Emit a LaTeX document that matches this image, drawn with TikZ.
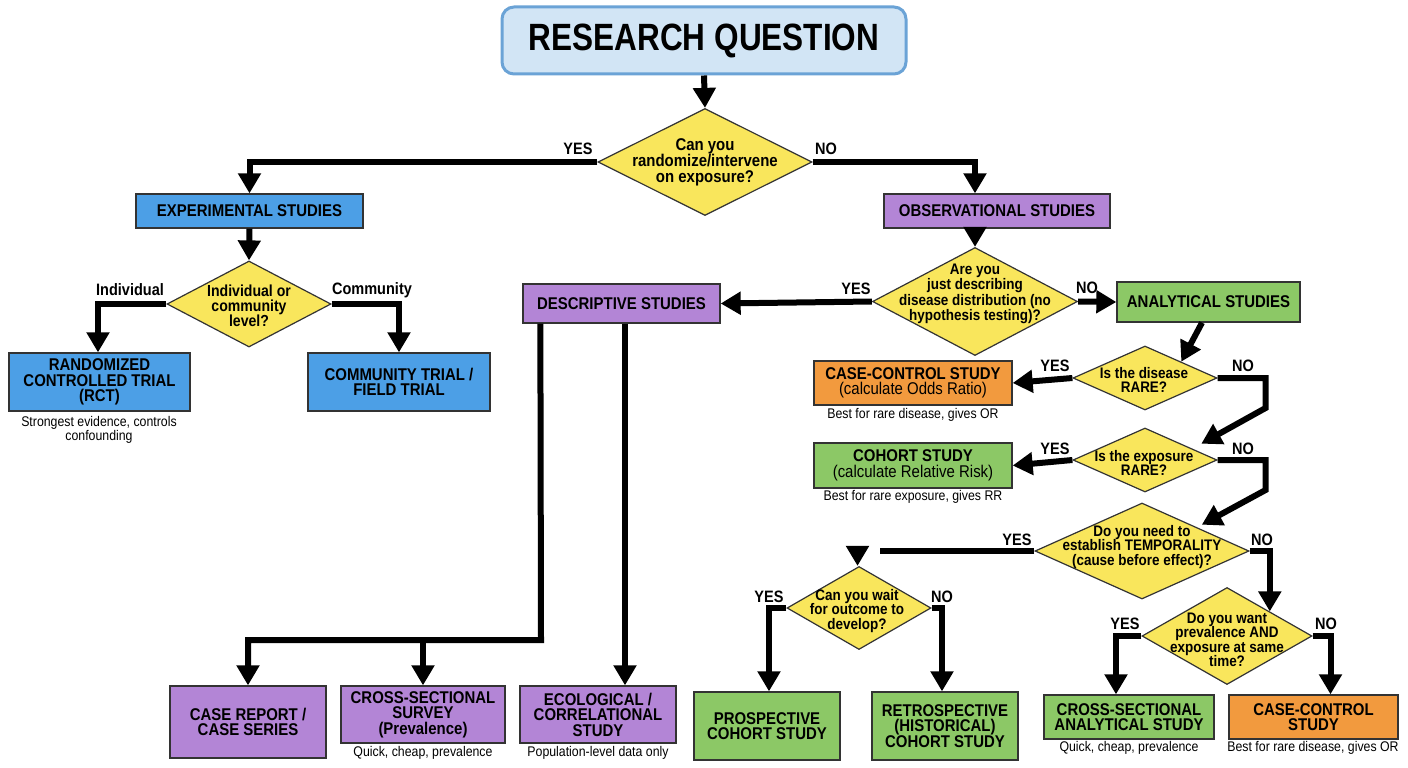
\documentclass[tikz,border=0pt]{standalone}
\usepackage{fontspec}
\setmainfont{Liberation Sans}
\newfontfamily\nar{Liberation Sans}[FakeStretch=0.88]
\newfontfamily\narr{Liberation Sans}[FakeStretch=0.83]
\usetikzlibrary{arrows.meta,shapes.geometric,calc}
\definecolor{titlefill}{HTML}{D2E5F5}
\definecolor{titleedge}{HTML}{6BA3D6}
\definecolor{cblue}{HTML}{4C9FE6}
\definecolor{cpurple}{HTML}{B385D6}
\definecolor{cgreen}{HTML}{8CC866}
\definecolor{corange}{HTML}{F29A3E}
\definecolor{cyellow}{HTML}{F9E65C}
\definecolor{edge}{HTML}{333333}
\tikzset{
  box/.style={draw=edge, line width=1.3pt, inner sep=0pt, align=center,
    font=\nar\bfseries\fontsize{17}{15.5}\selectfont},
  bluebox/.style={box, fill=cblue},
  purplebox/.style={box, fill=cpurple},
  greenbox/.style={box, fill=cgreen},
  orangebox/.style={box, fill=corange},
  dia/.style={diamond, draw=edge, line width=1.2pt, fill=cyellow, inner sep=0pt},
  dtext/.style={align=center, inner sep=0pt, font=\nar\bfseries\fontsize{15.3}{14.5}\selectfont},
  lab/.style={inner sep=0pt, font=\nar\bfseries\fontsize{16.5}{16}\selectfont},
  captxt/.style={inner sep=0pt, align=center, font=\nar\fontsize{14}{14}\selectfont},
  conn/.style={line width=6pt},
  arr/.style={conn, -{Triangle[width=22pt,length=20pt]}}
}
\begin{document}
\begin{tikzpicture}[x=1pt,y=-1pt]
\fill[white] (0,0) rectangle (1408,768);
\useasboundingbox (0,0) rectangle (1408,768);

% title
\node[draw=titleedge, line width=3pt, fill=titlefill, rounded corners=12pt,
  minimum width=404pt, minimum height=67pt, inner sep=0pt,
  font=\narr\bfseries\fontsize{38}{38}\selectfont] (title) at (704,40.5) {RESEARCH QUESTION};

% diamonds
\node[dia, minimum width=214pt, minimum height=107pt] (d1) at (705,162) {};
\node[dtext, font=\nar\bfseries\fontsize{17}{16}\selectfont] (t1) at (705,162) {Can you\\randomize/intervene\\on exposure?};
\node[dia, minimum width=164pt, minimum height=86pt] (d2) at (249,304) {};
\node[dtext, font=\nar\bfseries\fontsize{16}{14.5}\selectfont] (t2) at (249,306) {Individual or\\community\\level?};
\node[dia, minimum width=205pt, minimum height=108pt] (d3) at (975,301.5) {};
\node[dtext, font=\nar\bfseries\fontsize{15.3}{14}\selectfont] (t3) at (975,294) {Are you\\just describing\\disease distribution (no\\hypothesis testing)?};
\node[dia, minimum width=144pt, minimum height=64pt] (d4) at (1145,378) {};
\node[dtext] (t4) at (1144,380) {Is the disease\\RARE?};
\node[dia, minimum width=144pt, minimum height=64pt] (d5) at (1145,460) {};
\node[dtext] (t5) at (1144,463) {Is the exposure\\RARE?};
\node[dia, minimum width=214pt, minimum height=96pt] (d6) at (1142,551) {};
\node[dtext] (t6) at (1142,547) {Do you need to\\establish TEMPORALITY\\(cause before effect)?};
\node[dia, minimum width=144pt, minimum height=83pt] (d7) at (859,608) {};
\node[dtext] (t7) at (857,611) {Can you wait\\for outcome to\\develop?};
\node[dia, minimum width=170pt, minimum height=97pt] (d8) at (1227,636) {};
\node[dtext] (t8) at (1227,640) {Do you want\\prevalence AND\\exposure at same\\time?};

% boxes
\node[bluebox, minimum width=227pt, minimum height=34pt] (exp) at (249.5,211) {EXPERIMENTAL STUDIES};
\node[purplebox, minimum width=226pt, minimum height=34pt] (obs) at (997,211) {OBSERVATIONAL STUDIES};
\node[bluebox, minimum width=181pt, minimum height=58pt] (rct) at (99.5,382) {RANDOMIZED\\CONTROLLED TRIAL\\(RCT)};
\node[bluebox, minimum width=182pt, minimum height=58pt] (comm) at (399,382) {COMMUNITY TRIAL /\\FIELD TRIAL};
\node[purplebox, minimum width=197pt, minimum height=39pt] (desc) at (621.5,303.5) {DESCRIPTIVE STUDIES};
\node[greenbox, minimum width=183pt, minimum height=40pt] (anal) at (1208.5,302) {ANALYTICAL STUDIES};
\node[orangebox, minimum width=198pt, minimum height=44pt] (cc1) at (913,383) {CASE-CONTROL STUDY\\{\mdseries (calculate Odds Ratio)}};
\node[greenbox, minimum width=198pt, minimum height=45pt] (coh) at (913,465.5) {COHORT STUDY\\{\mdseries (calculate Relative Risk)}};
\node[greenbox, minimum width=146pt, minimum height=68pt] (pros) at (767,726) {PROSPECTIVE\\COHORT STUDY};
\node[greenbox, minimum width=146pt, minimum height=68pt] (retro) at (945,726) {RETROSPECTIVE\\(HISTORICAL)\\COHORT STUDY};
\node[greenbox, minimum width=170pt, minimum height=44pt] (csa) at (1129,717) {CROSS-SECTIONAL\\ANALYTICAL STUDY};
\node[orangebox, minimum width=169pt, minimum height=44pt] (cc2) at (1313.5,717) {CASE-CONTROL\\STUDY};
\node[purplebox, minimum width=156pt, minimum height=72pt] (caser) at (248,722) {CASE REPORT /\\CASE SERIES};
\node[purplebox, minimum width=164pt, minimum height=57pt] (css) at (423,714.5) {CROSS-SECTIONAL\\SURVEY\\(Prevalence)};
\node[purplebox, minimum width=156pt, minimum height=57pt] (eco) at (598,714.5) {ECOLOGICAL /\\CORRELATIONAL\\STUDY};

% captions
\node[captxt] (c1) at (99,430) {Strongest evidence, controls\\confounding};
\node[captxt] (c2) at (913,415) {Best for rare disease, gives OR};
\node[captxt] (c3) at (913,497) {Best for rare exposure, gives RR};
\node[captxt] (c4) at (423,753) {Quick, cheap, prevalence};
\node[captxt] (c5) at (598,753) {Population-level data only};
\node[captxt] (c6) at (1129,748) {Quick, cheap, prevalence};
\node[captxt] (c7) at (1313,748) {Best for rare disease, gives OR};

% labels
\node[lab] (l1) at (578,149) {YES};
\node[lab] (l2) at (826,149) {NO};
\node[lab] (l3) at (130,290) {Individual};
\node[lab] (l4) at (372,290) {Community};
\node[lab] (l5) at (856,289) {YES};
\node[lab] (l6) at (1087,288) {NO};
\node[lab] (l7) at (1055,366) {YES};
\node[lab] (l8) at (1243,366) {NO};
\node[lab] (l9) at (1055,449) {YES};
\node[lab] (l10) at (1243,449) {NO};
\node[lab] (l11) at (1017,540) {YES};
\node[lab] (l12) at (1262,540) {NO};
\node[lab] (l13) at (769,597) {YES};
\node[lab] (l14) at (942,597) {NO};
\node[lab] (l15) at (1125,624) {YES};
\node[lab] (l16) at (1326,624) {NO};

% connectors
\draw[arr] (title.south) -- (d1.north);
\draw[arr] (d1.west) -| (exp.north);
\draw[arr] (d1.east) -| (d3.north |- obs.north);
\draw[arr] (exp.south) -- (d2.north);
\draw[arr] (d2.west) -| ($(rct.north)+(-1.5,0)$);
\draw[arr] (d2.east) -| (comm.north);
\draw[arr] (d3.north |- obs.south) -- (d3.north);
\draw[arr] (d3.west) -- (desc.east);
\draw[arr] (d3.east) -- (anal.west);
\draw[arr] ($(anal.south)+(-6.5,0)$) -- (d4.north east);
\draw[arr] (d4.west) -- (cc1.east);
\draw[arr] (d4.east) -- ++(48,0) -- ++(0,30) -- ($(d5.north east)+(20,0)$);
\draw[arr] (d5.west) -- (coh.east);
\draw[arr] (d5.east) -- ++(48,0) -- ++(0,30) -- ($(d6.north east)+(6,-2)$);
\coordinate (yesend) at (880,551);
\draw[conn] (d6.west) -- (yesend);
\draw[arr] ($(d7.north)+(-1.5,-19)$) -- ($(d7.north)+(-1.5,0)$);
\draw[arr] (d6.east) -| (d8.north east);
\draw[arr] (d7.west) -| ($(pros.north)+(2,0)$);
\draw[arr] (d7.east) -| ($(retro.north)+(-3,0)$);
\draw[arr] (d8.west) -| ($(csa.north)+(-13,0)$);
\draw[arr] (d8.east) -| ($(cc2.north)+(17,0)$);
\coordinate (dj) at (541,640);
\draw[arr] ($(desc.south west)+(18,0)$) -- (dj) -| (caser.north);
\draw[arr] (css.north |- dj) -- (css.north);
\draw[arr] ($(desc.south)+(3.5,0)$) -- ($(eco.north)+(27,0)$);
\end{tikzpicture}
\end{document}
